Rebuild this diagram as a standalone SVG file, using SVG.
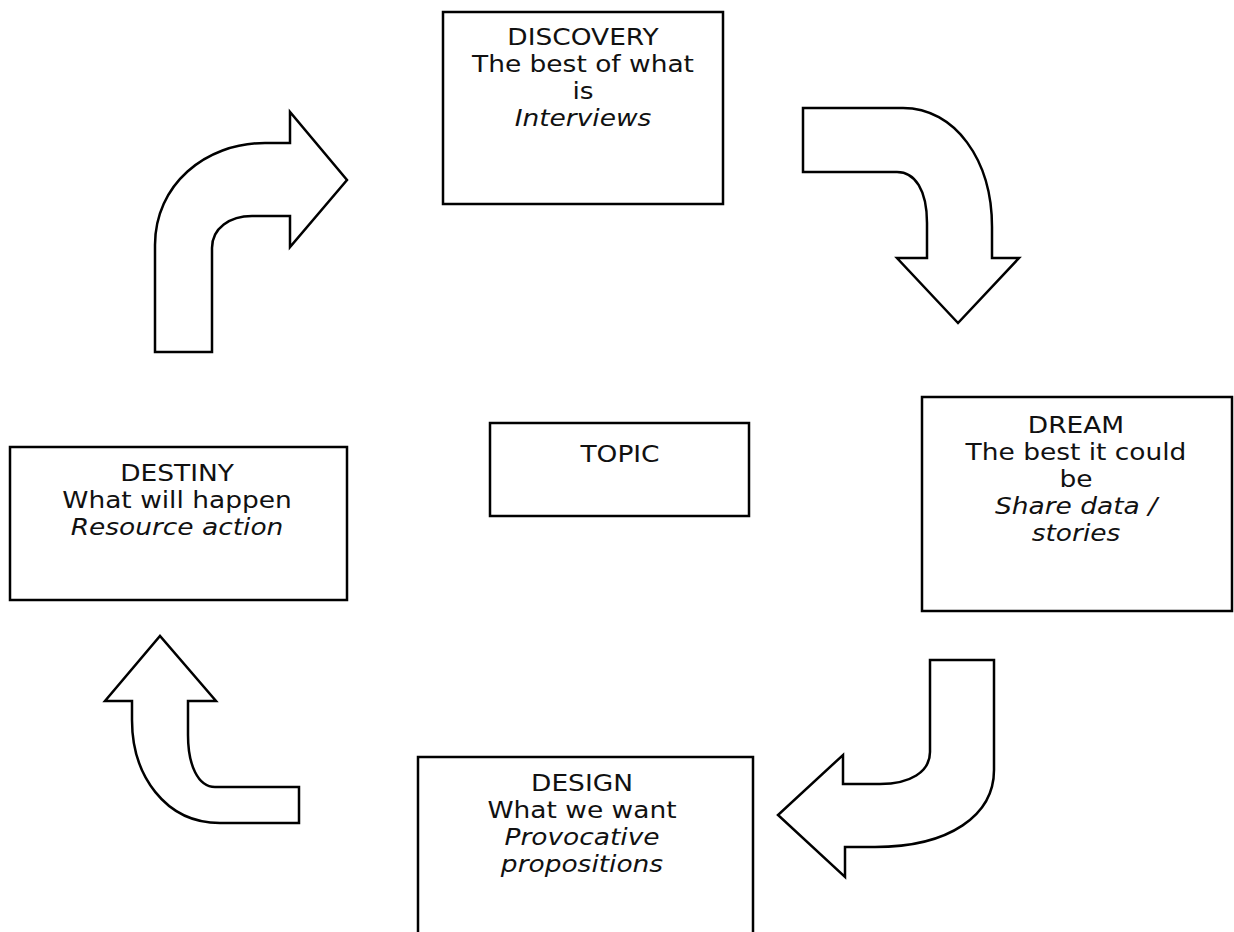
<svg xmlns="http://www.w3.org/2000/svg" width="1234" height="932" viewBox="0 0 1234 932">
<style>
.box{fill:#fff;stroke:#000;stroke-width:2.5}
.arr{fill:#fff;stroke:#000;stroke-width:2.5;stroke-linejoin:miter}
text{font-family:"DejaVu Sans","Liberation Sans",sans-serif;font-size:23px;fill:#111;text-anchor:middle}
.it{font-style:italic}
</style>
<rect width="1234" height="932" fill="#fff"/>
<g id="connectors">
<path class="arr" d="M155,352 L155,245 C155,185 205,143 265,143 L290,143 L290,112 L347,180 L290,247 L290,216 L252,216 C230,216 212,228 212,248 L212,352 Z"/>
<path class="arr" d="M803,108 L903,108 C955,108 992,160 992,227 L992,258 L1019,258 L958,323 L897,258 L927,258 L927,223 C927,190 915,172 897,172 L803,172 Z"/>
<path class="arr" d="M930,660 L994,660 L994,770 C994,815 950,847 875,847 L845,847 L845,877 L778,815 L843,755 L843,784 L880,784 C910,784 930,772 930,752 Z"/>
<path class="arr" d="M299,823 L220,823 C165,823 132,775 132,720 L132,701 L105,701 L160,636 L216,701 L188,701 L188,735 C188,765 198,787 215,787 L299,787 Z"/>
</g>
<g id="discovery">
<rect class="box" x="443" y="12" width="280" height="192"/>
<g transform="translate(583 0) scale(1.15 1)">
<text x="0" y="45">DISCOVERY</text>
<text x="0" y="72">The best of what</text>
<text x="0" y="99">is</text>
<text x="0" y="126" class="it">Interviews</text>
</g>
</g>
<g id="dream">
<rect class="box" x="922" y="397" width="310" height="214"/>
<g transform="translate(1076 0) scale(1.15 1)">
<text x="0" y="433">DREAM</text>
<text x="0" y="460">The best it could</text>
<text x="0" y="487">be</text>
<text x="0" y="514" class="it">Share data /</text>
<text x="0" y="541" class="it">stories</text>
</g>
</g>
<g id="topic">
<rect class="box" x="490" y="423" width="259" height="93"/>
<g transform="translate(620 0) scale(1.15 1)">
<text x="0" y="462">TOPIC</text>
</g>
</g>
<g id="destiny">
<rect class="box" x="10" y="447" width="337" height="153"/>
<g transform="translate(177 0) scale(1.15 1)">
<text x="0" y="481">DESTINY</text>
<text x="0" y="508">What will happen</text>
<text x="0" y="535" class="it">Resource action</text>
</g>
</g>
<g id="design">
<rect class="box" x="418" y="757" width="335" height="200"/>
<g transform="translate(582 0) scale(1.15 1)">
<text x="0" y="791">DESIGN</text>
<text x="0" y="818">What we want</text>
<text x="0" y="845" class="it">Provocative</text>
<text x="0" y="872" class="it">propositions</text>
</g>
</g>
</svg>
